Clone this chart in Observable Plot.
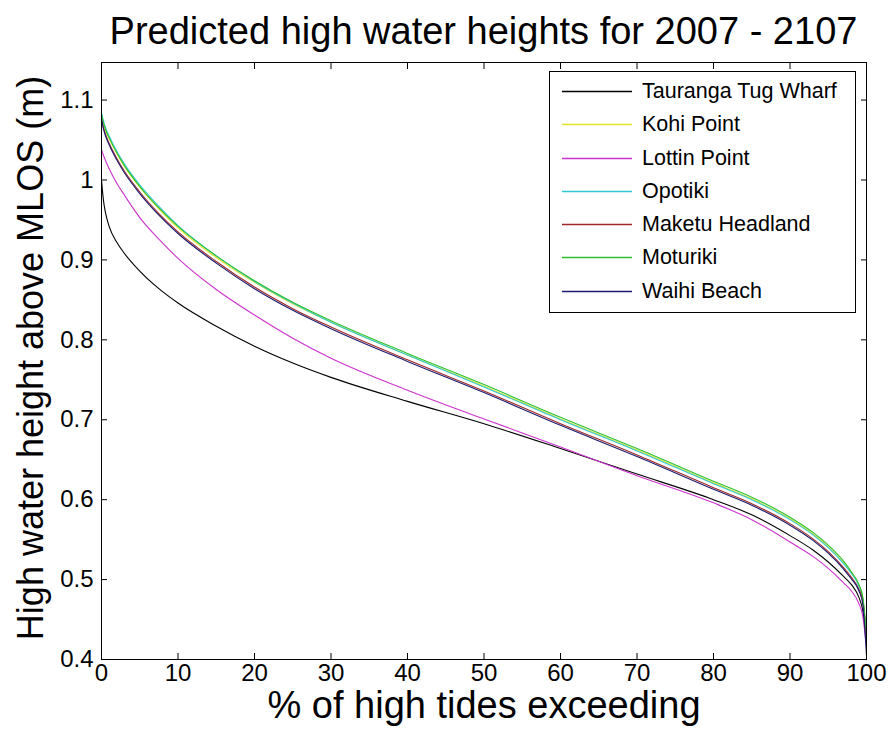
<!DOCTYPE html>
<html>
<head>
<meta charset="utf-8">
<script src="https://cdn.jsdelivr.net/npm/d3@7"></script>
<script src="https://cdn.jsdelivr.net/npm/@observablehq/plot@0.6"></script>
<style>
  body { margin: 0; background: #fff; }
  #wrap { position: relative; width: 888px; height: 737px; font-family: "Liberation Sans", Arial, sans-serif; color: #000; }
  #title { position: absolute; left: 101px; width: 765px; top: 11px; text-align: center; font-size: 38px; line-height: 40px; white-space: nowrap; }
  #legend { position: absolute; left: 549px; top: 71px; width: 305px; border: 1px solid #000; background: #fff; padding: 3px 0 4px 0; }
  .row { position: relative; height: 33.3px; }
  .row svg { position: absolute; left: 12px; top: 0; }
  .row span { position: absolute; left: 92px; top: 0; line-height: 33.3px; font-size: 21.5px; white-space: nowrap; }
  #chart { position: absolute; left: 0; top: 0; }
</style>
</head>
<body>
<div id="wrap">
  <div id="chart"></div>
  <div id="title"></div>
  <div id="legend"></div>
</div>
<script>
// ---- Data ----
const title = "Predicted high water heights for 2007 - 2107";
const xLabel = "% of high tides exceeding";
const yLabel = "High water height above MLOS (m)";

const sites = ["Tauranga Tug Wharf", "Kohi Point", "Lottin Point", "Opotiki", "Maketu Headland", "Moturiki", "Waihi Beach"];
const colors = ["#000000", "#e2e22a", "#cc33cc", "#2ec8d8", "#a02828", "#2ec02e", "#1c1c70"];

const xTicks = [0, 10, 20, 30, 40, 50, 60, 70, 80, 90, 100];
const yTicks = [0.4, 0.5, 0.6, 0.7, 0.8, 0.9, 1.0, 1.1];

// percent of high tides exceeding (x positions of read-off points)
const pct = [0, 0.25, 0.5, 1, 2, 3, 5, 7.5, 10, 15, 20, 25, 30, 40, 50, 60, 70, 80, 85, 90, 93, 95, 97, 98, 99, 99.5, 100];

const tauranga = [1.000, 0.975, 0.960, 0.942, 0.922, 0.908, 0.886, 0.864, 0.846, 0.817, 0.792, 0.771, 0.753, 0.723, 0.695, 0.664, 0.632, 0.600, 0.581, 0.555, 0.537, 0.522, 0.504, 0.494, 0.478, 0.462, 0.425];
const kohi     = [1.082, 1.071, 1.063, 1.052, 1.033, 1.017, 0.991, 0.964, 0.940, 0.903, 0.872, 0.845, 0.822, 0.781, 0.742, 0.701, 0.662, 0.621, 0.601, 0.576, 0.557, 0.541, 0.521, 0.509, 0.493, 0.478, 0.430];
const lottin   = [1.038, 1.031, 1.025, 1.014, 0.996, 0.981, 0.953, 0.926, 0.902, 0.863, 0.831, 0.802, 0.777, 0.737, 0.701, 0.666, 0.630, 0.596, 0.575, 0.547, 0.529, 0.514, 0.496, 0.486, 0.470, 0.455, 0.415];
const opotiki  = [1.084, 1.074, 1.066, 1.055, 1.036, 1.020, 0.994, 0.967, 0.943, 0.905, 0.873, 0.846, 0.822, 0.781, 0.741, 0.700, 0.661, 0.620, 0.600, 0.575, 0.556, 0.540, 0.520, 0.508, 0.492, 0.477, 0.428];
const maketu   = [1.078, 1.066, 1.058, 1.046, 1.027, 1.011, 0.985, 0.958, 0.935, 0.898, 0.866, 0.839, 0.816, 0.775, 0.736, 0.695, 0.656, 0.615, 0.595, 0.570, 0.551, 0.535, 0.515, 0.503, 0.488, 0.474, 0.425];
const moturiki = [1.082, 1.072, 1.064, 1.053, 1.034, 1.018, 0.992, 0.965, 0.942, 0.905, 0.874, 0.847, 0.824, 0.783, 0.744, 0.703, 0.664, 0.623, 0.603, 0.578, 0.559, 0.543, 0.523, 0.510, 0.494, 0.479, 0.432];
const waihi    = [1.076, 1.064, 1.056, 1.044, 1.025, 1.009, 0.983, 0.956, 0.933, 0.896, 0.864, 0.837, 0.814, 0.773, 0.734, 0.693, 0.654, 0.613, 0.593, 0.568, 0.549, 0.533, 0.513, 0.501, 0.486, 0.470, 0.405];

const series = [tauranga, kohi, lottin, opotiki, maketu, moturiki, waihi];

// ---- Build long table ----
const rows = [];
sites.forEach((s, i) => series[i].forEach((h, j) => rows.push({site: s, pct: pct[j], h})));

const font = '"Liberation Sans", Arial, sans-serif';

const chart = Plot.plot({
  width: 888,
  height: 737,
  marginLeft: 101,
  marginRight: 22,
  marginTop: 62,
  marginBottom: 78,
  style: {fontFamily: font, fontSize: "24px", color: "#000", background: "#fff", overflow: "visible"},
  x: {domain: [0, 100], label: null},
  y: {domain: [0.4, 1.147], label: null},
  color: {domain: sites, range: colors},
  marks: [
    Plot.line(rows, {x: "pct", y: "h", z: "site", stroke: "site", strokeWidth: 1.1, curve: "monotone-x"}),
    Plot.frame({stroke: "#000", strokeWidth: 1}),
    Plot.axisX(xTicks, {anchor: "bottom", tickSize: -6, tickPadding: 10, tickFormat: d => String(d), label: null, fontSize: 24}),
    Plot.axisX(xTicks, {anchor: "top", tickSize: -6, fill: "none", label: null}),
    Plot.axisY(yTicks, {anchor: "left", tickSize: -6, tickPadding: 14, tickFormat: d => String(+d.toFixed(1)), label: null, fontSize: 24}),
    Plot.axisY(yTicks, {anchor: "right", tickSize: -6, fill: "none", label: null}),
    Plot.text([xLabel], {frameAnchor: "bottom", lineAnchor: "middle", textAnchor: "middle", dy: 46, fontSize: 38, text: d => d}),
    Plot.text([yLabel], {frameAnchor: "left", lineAnchor: "middle", textAnchor: "middle", dx: -70, dy: -3, rotate: -90, fontSize: 36, text: d => d})
  ]
});
document.getElementById("chart").appendChild(chart);
document.getElementById("title").textContent = title;

const legend = d3.select("#legend");
sites.forEach((s, i) => {
  const row = legend.append("div").attr("class", "row");
  const svg = row.append("svg").attr("width", 72).attr("height", 33);
  svg.append("line").attr("x1", 0).attr("x2", 70).attr("y1", 16.5).attr("y2", 16.5)
     .attr("stroke", colors[i]).attr("stroke-width", 1.3);
  row.append("span").text(s);
});
</script>
</body>
</html>
